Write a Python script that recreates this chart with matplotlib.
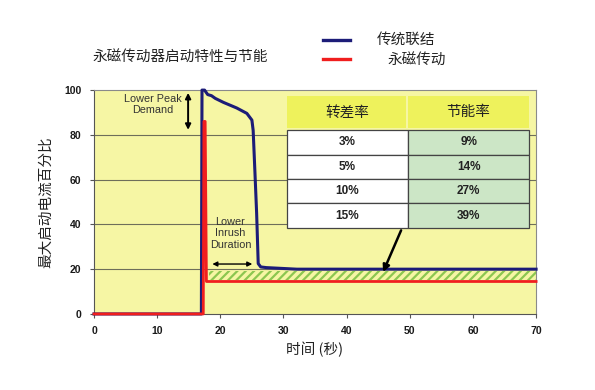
import matplotlib
matplotlib.use("Agg")
import matplotlib.pyplot as plt
from matplotlib.patches import Rectangle

plt.rcParams['font.family'] = ['Noto Sans CJK SC', 'DejaVu Sans']
plt.rcParams['hatch.linewidth'] = 1.6

# conventional coupling (blue) start current, % vs time (s)
blue_t = [0, 17.0, 17.1, 17.5, 18.0, 18.6, 19.2, 20.5, 22.6, 24.2, 25.0, 25.2, 25.5, 25.75, 26.0, 26.4, 27.3, 32.1, 70]
blue_v = [0, 0, 100, 100, 98, 97.5, 96.3, 94.5, 92, 89.6, 86.6, 82, 62, 45, 22.5, 21.0, 20.7, 20.0, 20.0]
# permanent magnet drive (red)
red_t = [0, 17.3, 17.4, 17.6, 17.8, 70]
red_v = [0, 0, 86, 86, 14.5, 14.5]

slip = ["3%", "5%", "10%", "15%"]
saving = ["9%", "14%", "27%", "39%"]
headers = ["转差率", "节能率"]

fig = plt.figure(figsize=(5.95, 3.9), dpi=100)
ax = fig.add_axes([0.158, 0.195, 0.743, 0.574])
ax.set_facecolor("#F6F6A4")
ax.set_xlim(0, 70)
ax.set_ylim(0, 100)
ax.set_xticks(range(0, 71, 10))
ax.set_yticks(range(0, 101, 20))
for y in range(20, 100, 20):
    ax.axhline(y, color="#6E6E5A", lw=0.8, zorder=1)
for s in ax.spines.values():
    s.set_color("#8A8A8A")
    s.set_linewidth(0.8)
ax.spines["left"].set_color("#555555")
ax.spines["bottom"].set_color("#555555")
ax.tick_params(length=3, width=0.8, color="#555555", labelsize=7.5, pad=6)
for lab in ax.get_xticklabels() + ax.get_yticklabels():
    lab.set_fontfamily("Liberation Sans")
    lab.set_fontweight("bold")
    lab.set_color("#1A1A1A")

# hatched saving band
ax.fill_between([18.2, 70], 15.3, 19.2, facecolor="none", hatch="////",
                edgecolor="#8CC650", linewidth=0, zorder=2)

ax.plot(blue_t, blue_v, color="#1C1C78", lw=2.2, zorder=3, clip_on=False)
ax.plot(red_t, red_v, color="#F01E1E", lw=2.0, zorder=4, clip_on=False)

# annotations
ax.annotate("", xy=(14.9, 100), xytext=(14.9, 81),
            arrowprops=dict(arrowstyle="<|-|>", color="black", lw=1.4, mutation_scale=8))
ax.text(9.3, 93.5, "Lower Peak\nDemand", ha="center", va="center", fontsize=7.8,
        family="Liberation Sans", color="#333333", linespacing=1.15, multialignment="center")
ax.annotate("", xy=(18.3, 22.3), xytext=(25.5, 22.3),
            arrowprops=dict(arrowstyle="<|-|>", color="black", lw=1.0, mutation_scale=7))
ax.text(21.6, 36, "Lower\nInrush\nDuration", ha="center", va="center", fontsize=7.8,
        family="Liberation Sans", color="#333333", linespacing=1.15, multialignment="center")
ax.annotate("", xy=(45.6, 17.6), xytext=(48.8, 38.5),
            arrowprops=dict(arrowstyle="-|>", color="black", lw=1.8, mutation_scale=10), zorder=5)

# table
x0, x1, x2 = 0.436, 0.710, 0.985
ax.add_patch(Rectangle((x0, 0.830), x1 - x0 - 0.004, 0.143, transform=ax.transAxes,
                       facecolor="#EEF25C", edgecolor="none", zorder=6))
ax.add_patch(Rectangle((x1, 0.830), x2 - x1, 0.143, transform=ax.transAxes,
                       facecolor="#EEF25C", edgecolor="none", zorder=6))
ax.text((x0 + x1) / 2, 0.9, headers[0], transform=ax.transAxes, ha="center", va="center",
        fontsize=10.5, zorder=7, color="#222222")
ax.text((x1 + x2) / 2, 0.9, headers[1], transform=ax.transAxes, ha="center", va="center",
        fontsize=10.5, zorder=7, color="#222222")
top, rh = 0.821, 0.109
for i in range(len(slip)):
    yb = top - (i + 1) * rh
    ax.add_patch(Rectangle((x0, yb), x1 - x0, rh, transform=ax.transAxes,
                           facecolor="white", edgecolor="#444444", lw=0.9, zorder=6))
    ax.add_patch(Rectangle((x1, yb), x2 - x1, rh, transform=ax.transAxes,
                           facecolor="#CCE6C6", edgecolor="#444444", lw=0.9, zorder=6))
    ax.text((x0 + x1) / 2, yb + rh / 2, slip[i], transform=ax.transAxes, ha="center",
            va="center", fontsize=8.5, fontweight="bold", family="Liberation Sans",
            color="#222222", zorder=7)
    ax.text((x1 + x2) / 2, yb + rh / 2, saving[i], transform=ax.transAxes, ha="center",
            va="center", fontsize=8.5, fontweight="bold", family="Liberation Sans",
            color="#222222", zorder=7)

ax.set_xlabel("时间 (秒)", fontsize=10.5, color="#222222", labelpad=4)
ax.set_ylabel("最大启动电流百分比", fontsize=10.5, color="#222222", labelpad=8)

# title and legend
fig.text(0.303, 0.853, "永磁传动器启动特性与节能", ha="center", va="center", fontsize=10.5,
         color="#222222")
fig.add_artist(plt.Line2D([0.543, 0.588], [0.897, 0.897], color="#1C1C78", lw=2.4))
fig.add_artist(plt.Line2D([0.543, 0.588], [0.848, 0.848], color="#F01E1E", lw=2.4))
fig.text(0.633, 0.897, "传统联结", ha="left", va="center", fontsize=10.5, color="#222222")
fig.text(0.652, 0.843, "永磁传动", ha="left", va="center", fontsize=10.5, color="#222222")

fig.savefig("out.png", dpi=100)
